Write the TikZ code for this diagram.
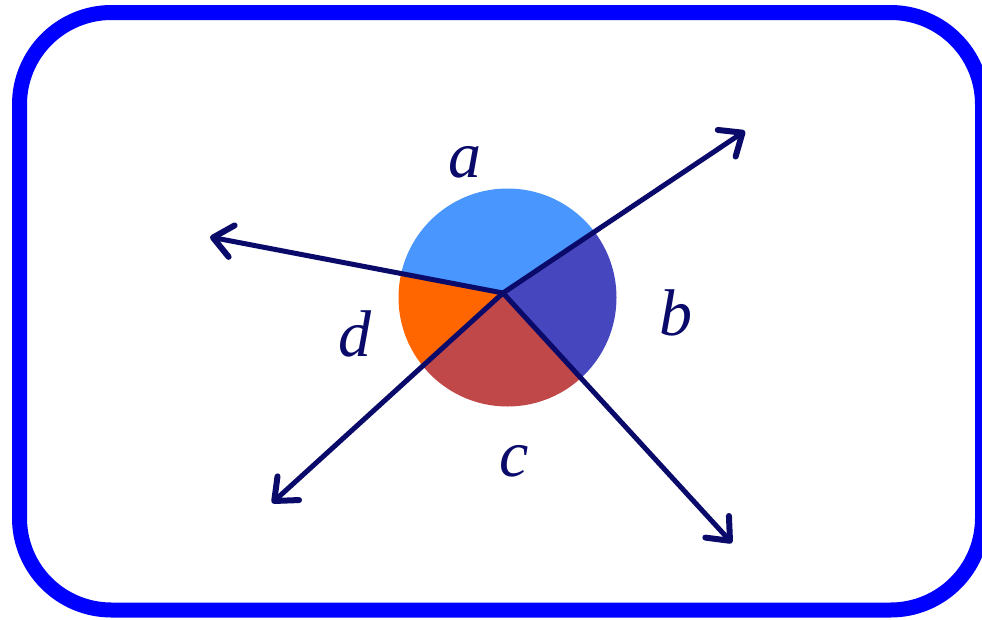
\documentclass[tikz,border=0pt]{standalone}
\usepackage{fontspec}
\setmainfont{Liberation Serif}
\usetikzlibrary{arrows.meta}
\definecolor{navy}{HTML}{0A0A6A}
\definecolor{secA}{HTML}{4A96FF}
\definecolor{secB}{HTML}{4646BE}
\definecolor{secC}{HTML}{C04848}
\definecolor{secD}{HTML}{FF6600}
\definecolor{frameblue}{HTML}{0000FF}
\tikzset{
  ray/.style={draw=navy, line width=5pt, -{Straight Barb[length=19pt,width=32pt,round,line width=6pt]}},
  lbl/.style={inner sep=0pt, text=navy, font=\fontsize{66}{66}\selectfont\itshape},
  frame/.style={draw=frameblue, line width=15pt, rounded corners=92pt}
}
\begin{document}
\begin{tikzpicture}[x=1pt,y=-1pt]
\useasboundingbox (0,0) rectangle (982,619);
\draw[frame] (19.5,12.5) rectangle (982.5,610);
\coordinate (V) at (503,293);
\coordinate (tUR) at (745,131);
\coordinate (tL) at (210,237);
\coordinate (tLL) at (272,503);
\coordinate (tLR) at (732,543);
\begin{scope}
\clip (507.5,297.5) circle (109);
\fill[secA] (V) -- (tUR) -- (503,0) -- (tL) -- cycle;
\fill[secB] (V) -- (tUR) -- (900,293) -- (tLR) -- cycle;
\fill[secC] (V) -- (tLR) -- (503,600) -- (tLL) -- cycle;
\fill[secD] (V) -- (tLL) -- (100,350) -- (tL) -- cycle;
\end{scope}
\draw[ray] (V) -- (tUR);
\draw[ray] (V) -- (tL);
\draw[ray] (V) -- (tLL);
\draw[ray] (V) -- (tLR);
\node[lbl] (la) at (465,162.5) {a};
\node[lbl] (lb) at (676,312.5) {b};
\node[lbl] (lc) at (514,461) {c};
\node[lbl] (ld) at (355,334) {d};
\end{tikzpicture}
\end{document}
